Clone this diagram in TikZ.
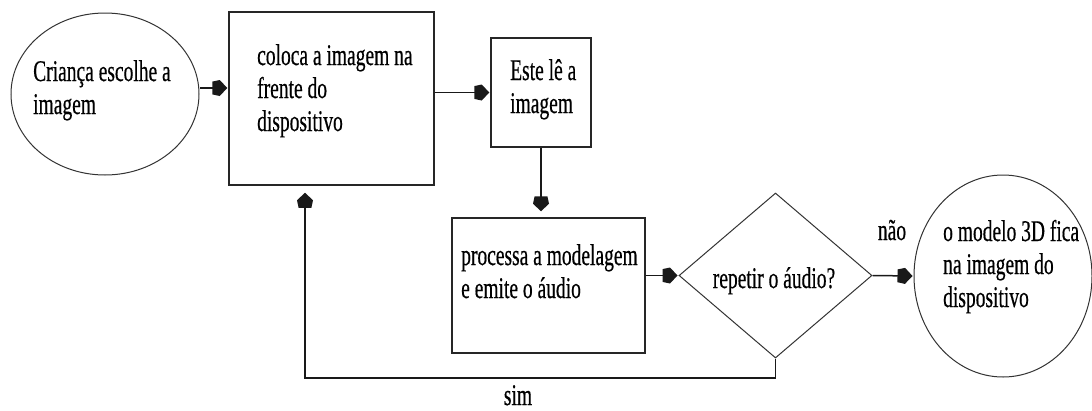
\documentclass[tikz,border=0pt]{standalone}
\usepackage{fontspec}
\usepackage{graphicx}
\setmainfont[FakeBold=0.6]{Liberation Serif}
\usetikzlibrary{arrows.meta,shapes.geometric}
\newcommand{\squeezedtext}[1]{\scalebox{0.65}[1]{\begin{tabular}[t]{@{}l@{}}#1\end{tabular}}}
\pgfdeclarearrow{
  name=House,
  setup code={
    \pgfarrowssettipend{0pt}
    \pgfarrowssetlineend{-0.5\pgfarrowlength}
    \pgfarrowssavethe\pgfarrowlength
    \pgfarrowssavethe\pgfarrowwidth
  },
  drawing code={
    \pgfpathmoveto{\pgfqpoint{0pt}{0pt}}
    \pgfpathlineto{\pgfqpoint{-0.5\pgfarrowlength}{0.5\pgfarrowwidth}}
    \pgfpathlineto{\pgfqpoint{-\pgfarrowlength}{0.4\pgfarrowwidth}}
    \pgfpathlineto{\pgfqpoint{-\pgfarrowlength}{-0.4\pgfarrowwidth}}
    \pgfpathlineto{\pgfqpoint{-0.5\pgfarrowlength}{-0.5\pgfarrowwidth}}
    \pgfpathclose
    \pgfusepathqfill
  },
  parameters={\the\pgfarrowlength,\the\pgfarrowwidth},
  defaults={length=15pt,width=16pt}
}
\begin{document}
\begin{tikzpicture}[x=1pt,y=-1pt,
  box/.style={draw=black!85, line width=1.5pt, inner sep=0pt},
  oval/.style={draw=black!80, line width=1pt, ellipse, inner sep=0pt},
  dia/.style={draw=black!80, line width=1pt, diamond, inner sep=0pt},
  txt/.style={font=\fontsize{30}{33}\selectfont, inner sep=0pt, text=black},
  para/.style={txt, anchor=base west},
  arr/.style={line width=1.5pt, draw=black!90, -{House}},
]
\fill[white] (0,0) rectangle (1092,410);
\useasboundingbox (0,0) rectangle (1092,410);

\node[oval, minimum width=188pt, minimum height=162pt] (e1) at (105,94) {};
\node[box, minimum width=205pt, minimum height=173pt] (b1) at (331.5,98.5) {};
\node[box, minimum width=100pt, minimum height=109pt] (b2) at (541,92.5) {};
\node[box, minimum width=193pt, minimum height=135pt] (b3) at (548.5,285.5) {};
\node[dia, minimum width=193pt, minimum height=165pt] (d) at (775.5,275.5) {};
\node[oval, minimum width=178pt, minimum height=202pt] (c) at (1003,276) {};

\node[para] (t1) at (33,81) {\squeezedtext{Criança escolhe a\\imagem}};
\node[para] (t2) at (257,65) {\squeezedtext{coloca a imagem na\\frente do\\dispositivo}};
\node[para] (t3) at (510,80) {\squeezedtext{Este lê a\\imagem}};
\node[para] (t4) at (461,265) {\squeezedtext{processa a modelagem\\e emite o áudio}};
\node[para] (t5) at (943,241) {\squeezedtext{o modelo 3D fica\\na imagem do\\dispositivo}};
\node[txt, anchor=base] (t6) at (774,288) {\squeezedtext{repetir o áudio?}};
\node[txt, anchor=base] (lnao) at (892,240) {\squeezedtext{não}};
\node[txt, anchor=base] (lsim) at (518,405) {\squeezedtext{sim}};

\coordinate (a1) at ([yshift=6pt]e1.east);
\draw[arr, shorten >=1pt] (a1) -- (a1 -| b1.west);
\draw[arr, shorten >=1pt] (b2.west -| b1.east) -- (b2.west);
\draw[arr, shorten >=6pt] (b2.south) -- (b2.south |- b3.north);
\draw[arr, shorten >=1pt] (d.west -| b3.east) -- (d.west);
\draw[arr, shorten >=1pt] (d.east) -- (c.west);
\coordinate (lp) at (305,378);
\draw[arr, shorten >=7pt] (d.south) |- (lp) -- (lp |- b1.south);
\end{tikzpicture}
\end{document}
